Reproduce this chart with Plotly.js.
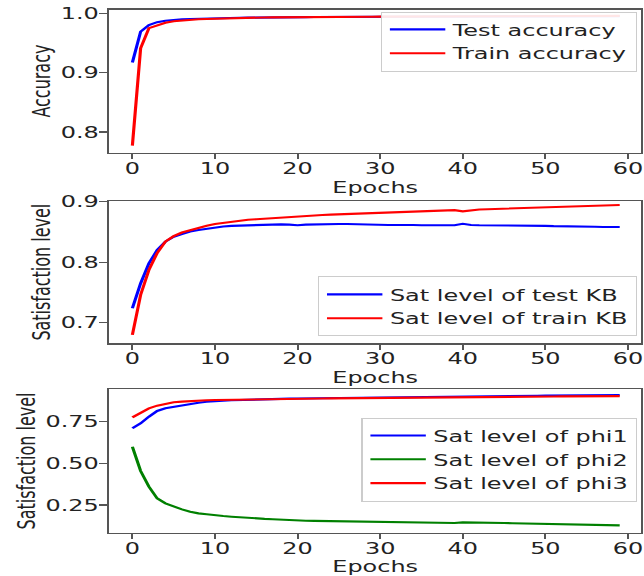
<!DOCTYPE html>
<html>
<head>
<meta charset="utf-8">
<script src="https://cdn.plot.ly/plotly-3.0.1.min.js"></script>
<style>
html,body{margin:0;padding:0;overflow:hidden;background:#fff;width:644px;height:576px;}
#plot{height:576px;transform-origin:0 0;}
</style>
</head>
<body>
<div id="plot"></div>
<script>
const epochs = Array.from({length: 60}, (_, i) => i);

const testAccuracy = [0.917,0.969,0.980,0.985,0.9875,0.989,0.990,0.9905,0.991,0.9915,
0.992,0.992,0.9922,0.9925,0.9927,0.993,0.993,0.9932,0.9933,0.9935,
0.9935,0.9936,0.9937,0.9938,0.9939,0.994,0.994,0.994,0.9941,0.9942,
0.9942,0.9943,0.9943,0.9944,0.9944,0.9945,0.9945,0.9945,0.9946,0.9946,
0.9946,0.9947,0.9947,0.9947,0.9948,0.9948,0.9948,0.9949,0.9949,0.9949,
0.995,0.995,0.995,0.995,0.9951,0.9951,0.9951,0.9952,0.9952,0.9952];
const trainAccuracy = [0.777,0.941,0.975,0.980,0.984,0.9865,0.988,0.989,0.990,0.9905,
0.991,0.9915,0.992,0.9922,0.9925,0.9927,0.993,0.9931,0.9933,0.9934,
0.9935,0.9936,0.9937,0.9938,0.9939,0.994,0.9941,0.9942,0.9942,0.9943,
0.9944,0.9944,0.9945,0.9945,0.9946,0.9946,0.9947,0.9947,0.9948,0.9948,
0.9949,0.9949,0.995,0.995,0.995,0.9951,0.9951,0.9952,0.9952,0.9952,
0.9953,0.9953,0.9954,0.9954,0.9954,0.9955,0.9955,0.9955,0.9956,0.9956];

const satTestKB = [0.724,0.765,0.798,0.820,0.834,0.842,0.8466,0.8505,0.853,0.855,
0.8577,0.859,0.860,0.8605,0.861,0.8615,0.862,0.862,0.8625,0.862,
0.861,0.862,0.8625,0.8625,0.863,0.863,0.863,0.8625,0.8625,0.862,
0.862,0.8615,0.8615,0.862,0.8615,0.861,0.861,0.861,0.861,0.861,
0.8635,0.8615,0.861,0.861,0.861,0.861,0.8605,0.8605,0.860,0.860,
0.860,0.8595,0.8595,0.859,0.859,0.8585,0.8585,0.858,0.858,0.858];
const satTrainKB = [0.680,0.746,0.787,0.815,0.834,0.843,0.849,0.853,0.8565,0.860,
0.863,0.865,0.867,0.869,0.870,0.871,0.872,0.873,0.874,0.875,
0.876,0.8765,0.877,0.878,0.8785,0.879,0.8795,0.880,0.8805,0.881,
0.8815,0.882,0.8825,0.883,0.8835,0.884,0.8845,0.885,0.8855,0.886,
0.884,0.886,0.887,0.8875,0.888,0.8885,0.889,0.8895,0.890,0.8905,
0.891,0.8915,0.892,0.8925,0.893,0.8933,0.8936,0.894,0.8943,0.8945];

const satPhi1 = [0.710,0.740,0.780,0.814,0.830,0.838,0.846,0.858,0.864,0.869,
0.874,0.876,0.878,0.880,0.882,0.884,0.885,0.886,0.887,0.888,
0.889,0.8897,0.8904,0.8911,0.8918,0.8925,0.8932,0.8939,0.8946,0.8953,
0.896,0.8965,0.897,0.8975,0.898,0.8985,0.899,0.8995,0.900,0.9005,
0.901,0.9015,0.902,0.9025,0.903,0.9035,0.904,0.9045,0.905,0.9055,
0.906,0.9063,0.9066,0.907,0.9073,0.9076,0.908,0.9083,0.9086,0.909];
const satPhi2 = [0.600,0.454,0.360,0.290,0.260,0.240,0.224,0.210,0.200,0.195,
0.188,0.184,0.180,0.176,0.173,0.170,0.167,0.165,0.162,0.160,
0.158,0.156,0.155,0.154,0.153,0.152,0.151,0.150,0.149,0.148,
0.147,0.146,0.145,0.145,0.144,0.144,0.143,0.143,0.142,0.142,
0.146,0.146,0.145,0.144,0.143,0.142,0.141,0.140,0.139,0.138,
0.137,0.136,0.135,0.134,0.133,0.132,0.131,0.130,0.129,0.128];
const satPhi3 = [0.776,0.804,0.830,0.846,0.858,0.866,0.870,0.874,0.876,0.878,
0.880,0.881,0.882,0.883,0.8835,0.884,0.8845,0.885,0.8855,0.886,
0.887,0.8876,0.8882,0.8888,0.8894,0.89,0.8906,0.8912,0.8918,0.8924,
0.893,0.8934,0.8938,0.8942,0.8946,0.895,0.8954,0.8958,0.8962,0.8966,
0.897,0.8974,0.8978,0.8982,0.8986,0.899,0.8994,0.8998,0.9002,0.9006,
0.901,0.9012,0.9014,0.9016,0.9018,0.902,0.9022,0.9024,0.9026,0.903];

const BLUE = '#0000ff', RED = '#ff0000', GREEN = '#008000';
const LW = 2.1;
const FONT = 'DejaVu Sans';

// horizontal stretch of the whole figure (the reference is stretched sideways)
const S = 1.4977;
const EXTRA = 6;
const W = 644 / S + EXTRA;
const ML = 110 / S, MR = (644 - 641) / S + EXTRA;
const PW = W - ML - MR;
const legX = (637 / S - ML) / PW;
const el = document.getElementById('plot');
el.style.width = W + 'px';
el.style.transform = 'scaleX(' + S + ')';

function tr(y, name, color, xa, ya, leg) {
  return {x: epochs, y: y, name: name, type: 'scatter', mode: 'lines',
    line: {color: color, width: LW}, xaxis: xa, yaxis: ya, legend: leg};
}

const data = [
  tr(testAccuracy, 'Test accuracy', BLUE, 'x', 'y', 'legend'),
  tr(trainAccuracy, 'Train accuracy', RED, 'x', 'y', 'legend'),
  tr(satTestKB, 'Sat level of test KB', BLUE, 'x2', 'y2', 'legend2'),
  tr(satTrainKB, 'Sat level of train KB', RED, 'x2', 'y2', 'legend2'),
  tr(satPhi1, 'Sat level of phi1', BLUE, 'x3', 'y3', 'legend3'),
  tr(satPhi2, 'Sat level of phi2', GREEN, 'x3', 'y3', 'legend3'),
  tr(satPhi3, 'Sat level of phi3', RED, 'x3', 'y3', 'legend3')
];

const axCommon = {
  showline: true, mirror: true, linecolor: '#555', linewidth: 1.3,
  ticks: 'outside', ticklen: 5.5, tickwidth: 1.3, tickcolor: '#555',
  showgrid: false, zeroline: false, automargin: false,
  tickfont: {size: 16, color: '#222', family: FONT}
};
function xax(anchor) {
  return Object.assign({}, axCommon, {anchor: anchor, range: [-2.79, 61.58],
    tickmode: 'linear', tick0: 0, dtick: 10, ticklabelstandoff: -5,
    ticklabeloverflow: 'allow',
    title: {text: 'Epochs', font: {size: 16, color: '#222', family: FONT}, standoff: 0}});
}
function yax(anchor, dom, range, dtick, fmt, title) {
  return Object.assign({}, axCommon, {anchor: anchor, domain: dom, range: range,
    tickmode: 'linear', tick0: 0, dtick: dtick, tickformat: fmt, ticklabelstandoff: -3,
    title: {text: title, font: {size: 16, color: '#222', family: FONT}, standoff: 2}});
}
const legCommon = {xanchor: 'right', yanchor: 'top', bgcolor: 'rgba(255,255,255,0.9)',
  bordercolor: '#cccccc', borderwidth: 1, font: {size: 16, color: '#222', family: FONT},
  tracegroupgap: 0, itemwidth: 37};

const layout = {
  width: W, height: 576,
  margin: {l: ML, r: MR, t: 0, b: 0},
  paper_bgcolor: '#fff', plot_bgcolor: '#fff',
  font: {family: FONT, size: 16, color: '#222'},
  showlegend: true,
  xaxis: xax('y'),
  yaxis: yax('x', [0.7349, 0.9835], [0.765, 1.0064], 0.1, '.1f', 'Accuracy'),
  xaxis2: xax('y2'),
  yaxis2: yax('x2', [0.404, 0.651], [0.666, 0.901], 0.1, '.1f', 'Satisfaction level'),
  xaxis3: xax('y3'),
  yaxis3: yax('x3', [0.0752, 0.3241], [0.084, 0.944], 0.25, '.2f', 'Satisfaction level'),
  legend: Object.assign({}, legCommon, {x: legX, y: 0.980}),
  legend2: Object.assign({}, legCommon, {x: legX, y: 0.520}),
  legend3: Object.assign({}, legCommon, {x: legX, y: 0.275})
};

Plotly.newPlot('plot', data, layout, {displayModeBar: false, staticPlot: true});
</script>
</body>
</html>
